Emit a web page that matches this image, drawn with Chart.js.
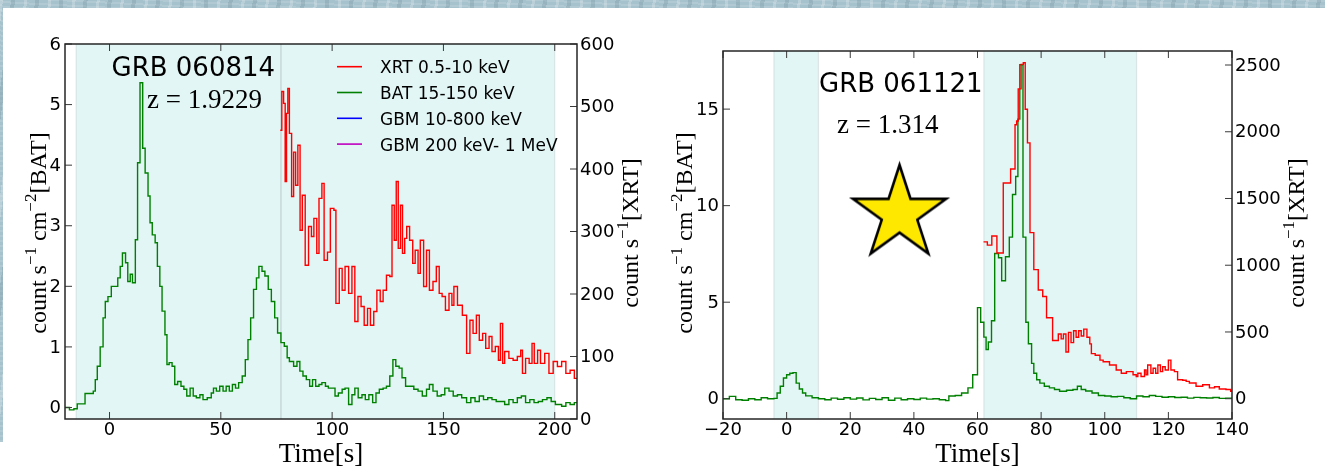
<!DOCTYPE html>
<html>
<head>
<meta charset="utf-8">
<script src="https://cdn.jsdelivr.net/npm/chart.js@4.4.1/dist/chart.umd.min.js"></script>
<style>
  html, body { margin: 0; padding: 0; background: #ffffff; }
  body { position: relative; width: 1325px; height: 472px; overflow: hidden; }
  .panel { position: absolute; top: 0; }
  #pa { left: 0; }
  #pb { left: 660px; }
  .band {
    position: absolute; z-index: 5;
    background-color: #a6c2cd;
    background-image:
      repeating-linear-gradient(97deg, rgba(255,255,255,0.22) 0 3px, rgba(0,0,0,0) 3px 11px, rgba(50,85,100,0.14) 11px 15px, rgba(0,0,0,0) 15px 24px),
      repeating-linear-gradient(3deg, rgba(255,255,255,0.12) 0 2px, rgba(0,0,0,0) 2px 5px);
  }
  #bandTop { left: 0; top: 0; width: 1325px; height: 8px; }
  #bandLeft { left: 0; top: 0; width: 3px; height: 442px; }
</style>
</head>
<body>
<div class="panel" id="pa"><canvas id="chartA" width="660" height="472"></canvas></div>
<div class="panel" id="pb"><canvas id="chartB" width="665" height="472"></canvas></div>
<div class="band" id="bandTop"></div>
<div class="band" id="bandLeft"></div>
<script>
// ---------------- GRB 060814 ----------------
// BAT 15-150 keV light curve: bin start times [s] and rates [counts/s/cm^2]
const batTimeA = [-20, -18, -16, -14.5, -11, -7.3, -6.4, -5.5, -4.2, -2.9, -1.9, -0.7, 0.8, 2.3, 3.7, 4.8, 5.8, 7.2, 8.2, 9.3,
  10.3, 11.6, 12.6, 13.7, 14.9, 16.0, 17.3, 18.2, 19.2, 20.5, 21.5, 22.6, 23.6, 24.9, 25.8, 26.8, 28.1, 29.3, 30.6, 32.1,
  33.4, 34.7, 36.2, 37.6, 39.0, 40.6, 42.0, 43.9, 45.7, 46.7, 48.0, 49.5, 51.0, 52.4, 53.8, 55.2, 56.6, 58.0, 59.6, 61.0,
  62.2, 63.4, 64.7, 66.0, 67.1, 68.5, 69.8, 71.3, 72.7, 74.2, 75.5, 77.0, 78.5, 79.8, 80.8, 82.7, 84.2, 85.5, 86.9, 88.4,
  89.9, 91.2, 92.6, 94.1, 95.4, 97.0, 98.3, 99.8, 101.3, 102.8, 104.5, 105.8, 107.4, 108.9, 110.2, 111.7, 113.4, 114.9, 116.5, 118.2,
  119.7, 121.2, 122.9, 124.4, 125.9, 127.3, 128.6, 130.1, 131.4, 133.0, 134.8, 136.7, 138.6, 140.5, 142.4, 143.7, 145.3, 147.2, 149.0, 150.6,
  152.5, 154.4, 156.3, 158.2, 160.4, 162.3, 164.2, 166.1, 168.0, 169.9, 171.8, 173.7, 175.6, 177.5, 179.4, 181.3, 183.2, 185.0, 186.9, 188.8,
  190.7, 192.6, 194.5, 196.5, 198.4, 200.3, 203.1, 205.0, 206.9, 208.8, 210];
const batRateA = [0.0, -0.04, -0.02, 0.06, 0.23, 0.27, 0.46, 0.68, 1.0, 1.48, 1.75, 1.83, 2.0, 2.0, 2.14, 2.33, 2.55, 2.39, 2.08, 2.2,
  2.06, 2.77, 4.04, 5.36, 4.28, 3.87, 3.49, 3.05, 2.85, 2.72, 2.33, 2.0, 1.59, 1.2, 0.71, 0.74, 0.68, 0.38, 0.43, 0.35,
  0.3, 0.19, 0.32, 0.19, 0.16, 0.21, 0.13, 0.16, 0.24, 0.32, 0.27, 0.35, 0.27, 0.35, 0.27, 0.38, 0.32, 0.41, 0.52, 0.79,
  1.12, 1.48, 1.95, 2.14, 2.33, 2.25, 2.17, 1.95, 1.75, 1.48, 1.23, 1.07, 1.01, 0.82, 0.76, 0.68, 0.76, 0.6, 0.52, 0.46,
  0.35, 0.46, 0.35, 0.38, 0.41, 0.35, 0.32, 0.32, 0.19, 0.24, 0.3, 0.32, 0.05, 0.21, 0.32, 0.16, 0.21, 0.13, 0.21, 0.08,
  0.24, 0.3, 0.32, 0.35, 0.52, 0.79, 0.68, 0.65, 0.49, 0.35, 0.35, 0.3, 0.27, 0.19, 0.3, 0.38, 0.27, 0.19, 0.21, 0.32,
  0.27, 0.19, 0.21, 0.16, 0.08, 0.16, 0.1, 0.19, 0.13, 0.16, 0.13, 0.1, 0.1, 0.05, 0.13, 0.08, 0.16, 0.19, 0.08, 0.13,
  0.08, 0.1, 0.13, 0.16, 0.1, 0.05, 0.02, 0.08, 0.05, 0.08, 0.08];

// XRT 0.5-10 keV light curve: bin start times [s] and rates [counts/s]
const xrtTimeA = [76.7, 77.4, 78.2, 78.9, 79.5, 80.1, 80.8, 81.8, 82.7, 83.6, 84.6, 85.6, 86.6, 87.9, 89.4, 90.7, 91.8, 93.1, 94.1, 95.4,
  96.4, 97.9, 99.2, 100.8, 101.7, 103.2, 104.5, 105.8, 107.4, 108.9, 110.2, 111.6, 113.0, 114.4, 115.9, 117.2, 118.7, 120.1, 121.6, 122.9,
  124.4, 125.9, 126.9, 127.9, 128.8, 129.7, 130.7, 131.6, 132.6, 133.5, 134.8, 136.2, 137.3, 138.6, 139.6, 141.1, 142.4, 143.7, 145.3, 146.8,
  148.1, 149.4, 150.9, 152.5, 153.8, 154.7, 156.3, 157.6, 158.5, 160.4, 161.9, 163.3, 164.8, 166.1, 167.6, 169.0, 170.5, 171.8, 173.3, 174.7,
  175.6, 176.6, 177.5, 179.4, 181.3, 183.2, 184.7, 185.5, 186.9, 188.5, 189.8, 190.8, 192.3, 193.6, 195.5, 197.4, 199.3, 201.2, 203.1, 205.0,
  206.9, 208.8, 210];
const xrtRateA = [462, 524, 505, 380, 489, 529, 457, 356, 427, 374, 438, 302, 358, 246, 308, 292, 321, 265, 353, 377,
  254, 267, 337, 334, 185, 241, 206, 244, 201, 244, 156, 196, 180, 150, 177, 150, 172, 206, 188, 206,
  230, 228, 342, 286, 380, 273, 342, 265, 289, 308, 286, 249, 270, 233, 286, 212, 270, 206, 220, 244,
  201, 196, 174, 201, 182, 212, 182, 182, 166, 105, 158, 137, 166, 126, 137, 113, 132, 108, 116, 94,
  153, 89, 108, 97, 94, 100, 110, 73, 97, 89, 121, 89, 110, 89, 105, 73, 92, 84, 92, 73,
  78, 65, 65];

// ---------------- GRB 061121 ----------------
const batTimeB = [-20, -18, -16, -14, -12, -10, -8, -6, -4, -3, -2, -1, 0, 1, 2, 3, 4, 5, 6, 8,
  10, 12, 14, 16, 18, 20, 22, 24, 26, 28, 30, 32, 34, 36, 38, 40, 42, 44, 46, 48,
  50, 51, 53, 55, 57, 58.5, 60, 61, 62, 62.7, 63.4, 64.4, 65.4, 66.6, 67.6, 68.8, 70, 71, 72, 72.7,
  73.3, 74.3, 75.2, 76, 77, 77.7, 78.6, 79.6, 81, 82.6, 84.2, 85.8, 88, 90, 91.4, 92.6, 94, 96, 98, 100,
  102, 104, 106, 108, 110, 112, 114, 116, 118, 120, 122, 124, 126, 128, 130, 132, 134, 136, 138, 140];
const batRateB = [0.0, 0.12, -0.05, -0.08, 0.0, -0.05, 0.05, 0.0, 0.02, 0.3, 0.65, 1.07, 1.24, 1.32, 1.35, 0.81, 0.5, 0.3, 0.15, 0.05,
  0.0, -0.05, 0.03, -0.03, 0.05, -0.02, 0.04, -0.06, 0.02, -0.04, 0.05, -0.08, 0.03, -0.05, 0.0, -0.04, 0.03, -0.02, 0.0, -0.05,
  -0.1, 0.14, 0.17, 0.3, 0.56, 1.24, 4.72, 3.96, 3.19, 2.55, 2.94, 4.04, 7.52, 7.3, 6.11, 7.35, 8.37, 10.58, 11.51, 14.48,
  17.3, 8.37, 3.96, 2.85, 1.83, 1.32, 0.98, 0.81, 0.65, 0.56, 0.48, 0.39, 0.44, 0.48, 0.65, 0.48, 0.4, 0.3, 0.17, 0.14,
  0.1, 0.12, 0.05, 0.0, 0.14, 0.1, 0.17, 0.12, 0.08, 0.1, 0.06, 0.08, 0.03, 0.07, 0.05, 0.04, 0.06, 0.02, 0.03, 0.0];

const xrtTimeB = [61.9, 63.1, 64.5, 66.1, 68.1, 70.4, 71.8, 72.3, 72.8, 73.7, 74.4, 75.0, 75.7, 76.5, 77.7, 79.1, 80.5, 81.7, 83.6, 85.4,
  86.3, 87.0, 87.8, 88.6, 89.4, 90.2, 91.0, 91.8, 92.6, 93.4, 94.4, 95.3, 95.8, 97.0, 98.5, 99.5, 101.5, 103.6, 105.2, 106.8,
  108.9, 109.9, 110.4, 111.4, 112.5, 113.0, 113.5, 114.5, 115.2, 116.0, 116.7, 117.5, 118.2, 119.0, 120.0, 120.8, 121.9, 122.9, 124.5, 125.6,
  126.6, 128.7, 130.8, 132.9, 134.5, 136.0, 138.1, 139.6, 140];
const xrtRateB = [1175, 1151, 1219, 1092, 1616, 1721, 2052, 2081, 2321, 2505, 2517, 2169, 1917, 1244, 967, 815, 766, 607, 436, 485,
  448, 485, 350, 497, 420, 509, 460, 509, 470, 521, 460, 411, 338, 326, 289, 277, 252, 215, 191, 203,
  179, 166, 191, 166, 215, 179, 252, 191, 228, 191, 252, 203, 240, 215, 289, 215, 203, 142, 138, 130,
  118, 93, 105, 81, 90, 73, 69, 56, 56];

// burst marker
const starTime = [35.5];
const starRate = [9.57];

// tick values
const xTicksA = [0, 50, 100, 150, 200];
const yTicksA = [0, 1, 2, 3, 4, 5, 6];
const y1TicksA = [0, 100, 200, 300, 400, 500, 600];
const xTicksB = [-20, 0, 20, 40, 60, 80, 100, 120, 140];
const yTicksB = [0, 5, 10, 15];
const y1TicksB = [0, 500, 1000, 1500, 2000, 2500];

// shaded time windows
const spansA = [[-15, 77], [77, 200]];
const spansB = [[-4, 10], [62, 110]];

const legendLabels = ['XRT 0.5-10 keV', 'BAT 15-150 keV', 'GBM 10-800 keV', 'GBM 200 keV- 1 MeV'];

// ------------------------------------------------------------
const pts = (ts, vs) => ts.map((t, i) => ({ x: t, y: vs[i] }));
const fmt = v => String(v).replace('-', '\u2212');
const SANS = '"DejaVu Sans", "Liberation Sans", sans-serif';
const SERIF = '"Liberation Serif", "DejaVu Serif", serif';

function starImage(R, fill, stroke, lw) {
  const size = Math.ceil(2 * R + 4 * lw + 4);
  const c = document.createElement('canvas');
  c.width = c.height = size;
  const g = c.getContext('2d');
  const cx = size / 2, cy = size / 2, r = R * 0.382;
  g.beginPath();
  for (let k = 0; k < 10; k++) {
    const a = -Math.PI / 2 + k * Math.PI / 5;
    const rad = k % 2 ? r : R;
    g.lineTo(cx + rad * Math.cos(a), cy + rad * Math.sin(a));
  }
  g.closePath();
  g.fillStyle = fill;
  g.fill();
  g.lineWidth = lw;
  g.lineJoin = 'miter';
  g.strokeStyle = stroke;
  g.stroke();
  return c;
}

// shaded windows, frame box and inward tick marks
const framePlugin = {
  id: 'frame',
  beforeDatasetsDraw(chart, args, o) {
    const { ctx, chartArea: { top, bottom }, scales: { x } } = chart;
    ctx.save();
    for (const [a, b] of o.spans) {
      const x0 = x.getPixelForValue(a), x1 = x.getPixelForValue(b);
      ctx.fillStyle = '#e3f6f6';
      ctx.fillRect(x0, top, x1 - x0, bottom - top);
    }
    ctx.strokeStyle = 'rgba(110,125,125,0.17)';
    ctx.lineWidth = 1.2;
    for (const [a, b] of o.spans) {
      for (const v of [a, b]) {
        const px = x.getPixelForValue(v);
        ctx.beginPath();
        ctx.moveTo(px, top);
        ctx.lineTo(px, bottom);
        ctx.stroke();
      }
    }
    ctx.restore();
  },
  afterDatasetsDraw(chart, args, o) {
    const { ctx, chartArea: { left, right, top, bottom }, scales } = chart;
    const L = 7;
    ctx.save();
    ctx.strokeStyle = '#3a3a3a';
    ctx.lineWidth = 1;
    ctx.beginPath();
    for (const t of scales.x.ticks) {
      const px = scales.x.getPixelForValue(t.value);
      ctx.moveTo(px, bottom); ctx.lineTo(px, bottom - L);
      ctx.moveTo(px, top); ctx.lineTo(px, top + L);
    }
    for (const t of scales.y.ticks) {
      const py = scales.y.getPixelForValue(t.value);
      ctx.moveTo(left, py); ctx.lineTo(left + L, py);
    }
    for (const t of scales.y1.ticks) {
      const py = scales.y1.getPixelForValue(t.value);
      ctx.moveTo(right, py); ctx.lineTo(right - L, py);
    }
    ctx.stroke();
    ctx.strokeStyle = '#262626';
    ctx.lineWidth = 1.5;
    ctx.strokeRect(left, top, right - left, bottom - top);
    ctx.restore();
  }
};

// text run with superscripts, optionally rotated to read bottom-to-top
function drawRich(ctx, parts, x, y, size, rotate, align) {
  ctx.save();
  ctx.translate(x, y);
  if (rotate) ctx.rotate(-Math.PI / 2);
  const fonts = parts.map(([, sup]) => `${sup ? Math.round(size * 0.7) : size}px ${SERIF}`);
  let total = 0;
  parts.forEach(([t], i) => { ctx.font = fonts[i]; total += ctx.measureText(t).width; });
  let cx = align === 'left' ? 0 : -total / 2;
  ctx.fillStyle = '#000';
  ctx.textBaseline = 'alphabetic';
  ctx.textAlign = 'left';
  parts.forEach(([t, sup], i) => {
    ctx.font = fonts[i];
    ctx.fillText(t, cx, sup ? -size * 0.4 : 0);
    cx += ctx.measureText(t).width;
  });
  ctx.restore();
}

// titles, redshift labels, axis labels and inset legend
const textPlugin = {
  id: 'texts',
  afterDraw(chart, args, o) {
    const { ctx, chartArea: ca } = chart;
    ctx.save();
    ctx.fillStyle = '#000';
    ctx.textBaseline = 'alphabetic';
    ctx.textAlign = 'left';
    ctx.font = `26px ${SANS}`;
    ctx.fillText(o.name, ca.left + o.nameAt[0], ca.top + o.nameAt[1]);
    ctx.restore();
    drawRich(ctx, [[o.z, 0]], ca.left + o.zAt[0], ca.top + o.zAt[1], 27, false, 'left');
    drawRich(ctx, [['Time[s]', 0]], (ca.left + ca.right) / 2, 462, 27, false);
    drawRich(ctx, [['count s', 0], ['\u22121', 1], [' cm', 0], ['\u22122', 1], ['[BAT]', 0]], o.leftTitleX, 233, 24, true);
    drawRich(ctx, [['count s', 0], ['\u22121', 1], ['[XRT]', 0]], o.rightTitleX, 233, 24, true);

    if (o.legend) {
      ctx.save();
      ctx.font = `17px ${SANS}`;
      ctx.textBaseline = 'alphabetic';
      ctx.fillStyle = '#000';
      chart.data.datasets.filter(d => legendLabels.includes(d.label)).forEach((d, i) => {
        const y = ca.top + 22.7 + i * 25.8;
        ctx.strokeStyle = d.borderColor;
        ctx.lineWidth = 1.6;
        ctx.beginPath();
        ctx.moveTo(ca.left + 272, y);
        ctx.lineTo(ca.left + 297, y);
        ctx.stroke();
        ctx.fillText(d.label, ca.left + 315, y + 6.5);
      });
      ctx.restore();
    }
  }
};

function axes(xMin, xMax, xTicks, yMin, yMax, yTicks, y1Min, y1Max, y1Ticks, yW, y1W) {
  const common = {
    grid: { display: false, drawTicks: false },
    border: { display: false },
  };
  return {
    x: {
      ...common, type: 'linear', min: xMin, max: xMax,
      afterBuildTicks: s => { s.ticks = xTicks.map(v => ({ value: v })); },
      afterFit: s => { s.height = 53; },
      ticks: { padding: 1, color: '#000', font: { family: SANS, size: 18 }, maxRotation: 0, autoSkip: false, callback: v => fmt(v) }
    },
    y: {
      ...common, type: 'linear', position: 'left', min: yMin, max: yMax,
      afterBuildTicks: s => { s.ticks = yTicks.map(v => ({ value: v })); },
      afterFit: s => { s.width = yW; },
      ticks: { padding: 4, labelOffset: 1, color: '#000', font: { family: SANS, size: 18 }, autoSkip: false, callback: v => fmt(v) }
    },
    y1: {
      ...common, type: 'linear', position: 'right', min: y1Min, max: y1Max,
      afterBuildTicks: s => { s.ticks = y1Ticks.map(v => ({ value: v })); },
      afterFit: s => { s.width = y1W; },
      ticks: { padding: 3, labelOffset: 1, color: '#000', font: { family: SANS, size: 18 }, autoSkip: false, callback: v => fmt(v) }
    }
  };
}

const lineStyle = { stepped: true, pointRadius: 0, borderWidth: 1.4, fill: false, borderJoinStyle: 'miter', borderCapStyle: 'butt' };

const baseOptions = {
  responsive: false,
  animation: false,
  devicePixelRatio: 1,
  events: [],
  layout: { padding: { top: 44, left: 0, right: 0, bottom: 0 } },
};

new Chart(document.getElementById('chartA'), {
  type: 'line',
  data: {
    datasets: [
      { label: legendLabels[0], data: pts(xrtTimeA, xrtRateA), borderColor: '#ff0000', yAxisID: 'y1', ...lineStyle },
      { label: legendLabels[1], data: pts(batTimeA, batRateA), borderColor: '#008000', yAxisID: 'y', ...lineStyle },
      { label: legendLabels[2], data: [], borderColor: '#0000ff', yAxisID: 'y', ...lineStyle },
      { label: legendLabels[3], data: [], borderColor: '#bf00bf', yAxisID: 'y', ...lineStyle }
    ]
  },
  options: {
    ...baseOptions,
    scales: axes(-20, 210, xTicksA, -0.19, 6, yTicksA, 0, 600, y1TicksA, 65, 83),
    plugins: {
      legend: { display: false }, tooltip: { enabled: false },
      frame: { spans: spansA },
      texts: { name: 'GRB 060814', nameAt: [46.5, 32], z: 'z = 1.9229', zAt: [82, 64], leftTitleX: 46, rightTitleX: 638, legend: true }
    }
  },
  plugins: [framePlugin, textPlugin]
});

new Chart(document.getElementById('chartB'), {
  type: 'line',
  data: {
    datasets: [
      { label: 'XRT', data: pts(xrtTimeB, xrtRateB), borderColor: '#ff0000', yAxisID: 'y1', ...lineStyle },
      { label: 'BAT', data: pts(batTimeB, batRateB), borderColor: '#008000', yAxisID: 'y', ...lineStyle },
      { label: 'star', data: pts(starTime, starRate), yAxisID: 'y', showLine: false,
        pointStyle: starImage(49, '#ffe800', '#000000', 2.6), pointRadius: 50 }
    ]
  },
  options: {
    ...baseOptions,
    scales: axes(-20, 140, xTicksB, -1.05, 18.01, yTicksB, -152, 2605, y1TicksB, 63, 93),
    plugins: {
      legend: { display: false }, tooltip: { enabled: false },
      frame: { spans: spansB },
      texts: { name: 'GRB 061121', nameAt: [96, 41], z: 'z = 1.314', zAt: [114, 82], leftTitleX: 32, rightTitleX: 644, legend: false }
    }
  },
  plugins: [framePlugin, textPlugin]
});
</script>
</body>
</html>
